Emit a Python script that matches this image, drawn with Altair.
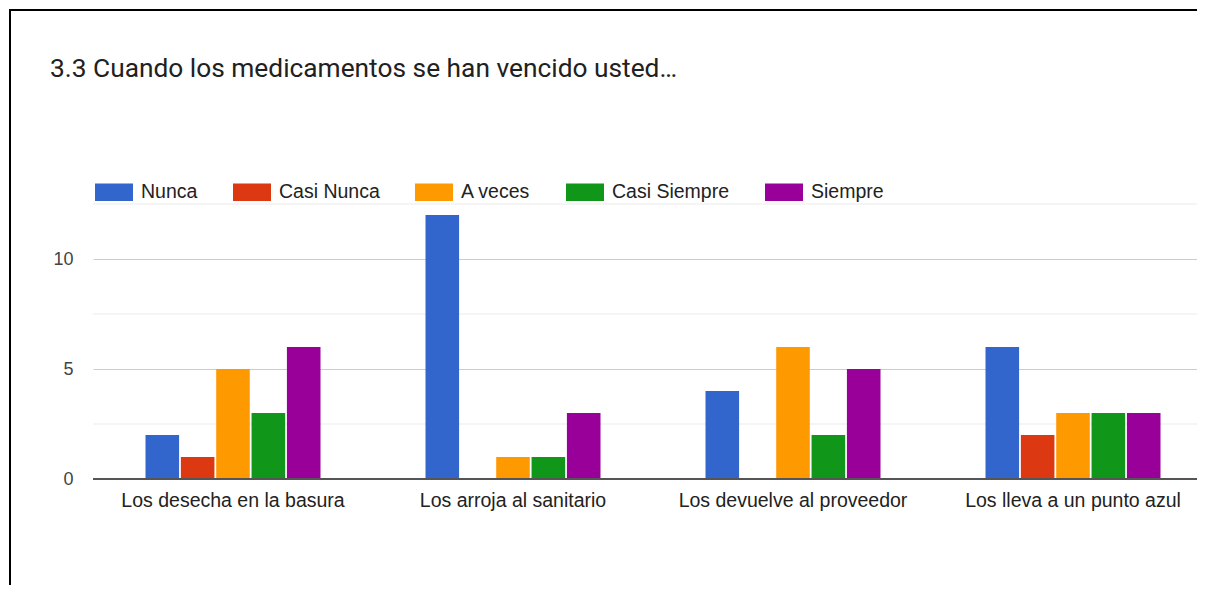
import altair as alt
import pandas as pd

categories = ["Los desecha en la basura", "Los arroja al sanitario",
              "Los devuelve al proveedor", "Los lleva a un punto azul"]
series = ["Nunca", "Casi Nunca", "A veces", "Casi Siempre", "Siempre"]
colors = ["#3366cc", "#dc3912", "#ff9900", "#109618", "#990099"]

nunca = [2, 12, 4, 6]
casi_nunca = [1, 0, 0, 2]
a_veces = [5, 1, 6, 3]
casi_siempre = [3, 1, 2, 3]
siempre = [6, 3, 5, 3]

minor_grid = [2.5, 7.5, 12.5]
y_ticks = [0, 5, 10]

values = [nunca, casi_nunca, a_veces, casi_siempre, siempre]
rows = []
for s, vals in zip(series, values):
    for c, v in zip(categories, vals):
        rows.append({"cat": c, "serie": s, "n": v})
df = pd.DataFrame(rows)
df = df[df["n"] > 0]

TITLE = "3.3 Cuando los medicamentos se han vencido usted…"
AXFONT = "Liberation Sans"

W, H = 1104, 275

bars = alt.Chart(df).mark_bar().encode(
    x=alt.X("cat:N", sort=categories, title=None,
            scale=alt.Scale(range=[0, 1120], paddingInner=0.375, paddingOuter=0.1875),
            axis=alt.Axis(labelAngle=0, labelFontSize=19.5, labelFont=AXFONT,
                          labelColor="#222222", ticks=False, domain=False,
                          labelPadding=12, grid=False, labelLimit=0)),
    xOffset=alt.XOffset("serie:N", sort=series,
                        scale=alt.Scale(domain=series, paddingInner=0.05, paddingOuter=0)),
    y=alt.Y("n:Q", title=None,
            scale=alt.Scale(domain=[0, 12.5], nice=False),
            axis=alt.Axis(values=y_ticks, labelFontSize=18, labelFont=AXFONT,
                          labelColor="#444444", ticks=False, domain=False,
                          labelPadding=20, gridColor="#cccccc", gridWidth=1.2)),
    color=alt.Color("serie:N", sort=series,
                    scale=alt.Scale(domain=series, range=colors),
                    legend=alt.Legend(title=None, orient="none", legendX=2, legendY=-31,
                                      direction="horizontal",
                                      symbolType="M-1,-0.46H1V0.46H-1Z",
                                      symbolSize=1444, symbolStrokeWidth=0,
                                      labelFontSize=19.5, labelFont=AXFONT,
                                      labelColor="#222222", labelOffset=8,
                                      columnPadding=35, labelLimit=0)),
)

minor = alt.Chart(pd.DataFrame({"g": minor_grid})).mark_rule(
    color="#ebebeb", strokeWidth=1.2).encode(y="g:Q")

zero = alt.Chart(pd.DataFrame({"z": [0]})).mark_rule(
    color="#555555", strokeWidth=1.8).encode(y="z:Q")

border = alt.Chart(pd.DataFrame({"b": [0]})).mark_rect(
    fill=None, stroke="#000000", strokeWidth=2).encode(
    x=alt.value(-83), x2=alt.value(1110), y=alt.value(-194), y2=alt.value(420))

title = alt.Chart(pd.DataFrame({"t": [TITLE]})).mark_text(
    align="left", baseline="middle", font="Roboto", fontSize=26.3,
    color="#212121").encode(text="t:N", x=alt.value(-43), y=alt.value(-135))

chart = alt.layer(minor, bars, zero, border, title).properties(
    width=W, height=H,
    autosize=alt.AutoSizeParams(type="none"),
    padding={"left": 85, "top": 196, "right": 0, "bottom": 106},
).configure_view(stroke=None)

chart.save("out.html", embed_options={"renderer": "svg", "actions": False})
